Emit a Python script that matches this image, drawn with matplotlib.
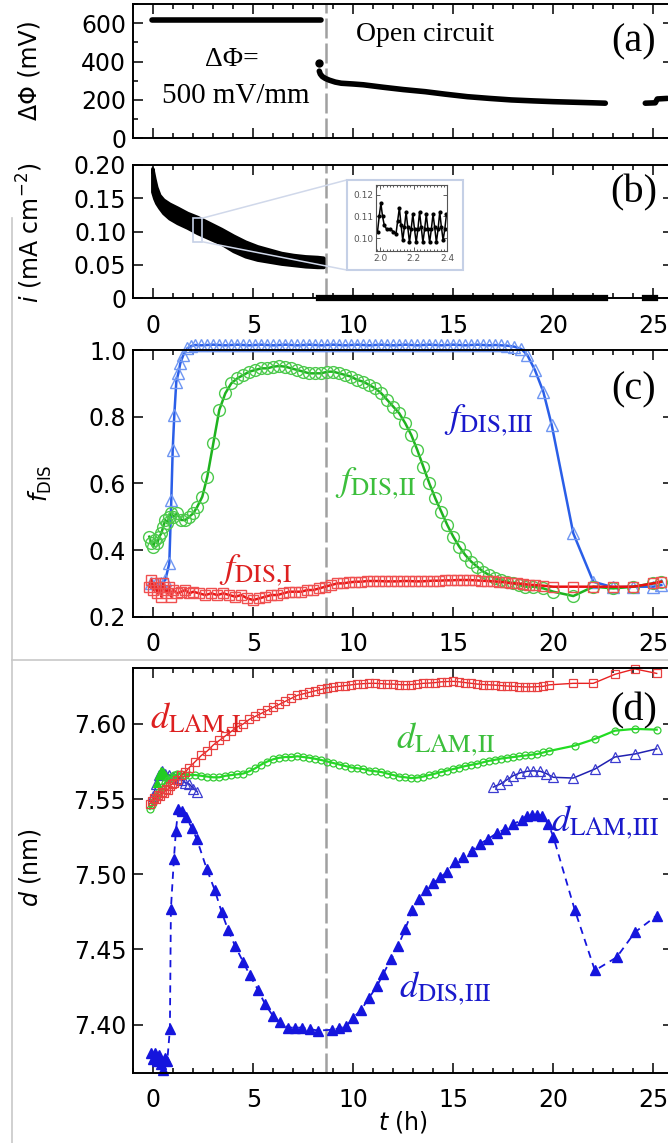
import matplotlib
matplotlib.use("Agg")
from matplotlib import pyplot as plt
from matplotlib.patches import Rectangle, ConnectionPatch
from matplotlib.lines import Line2D
from matplotlib.ticker import MultipleLocator

plt.rcParams['font.family'] = ['DejaVu Sans']
plt.rcParams['mathtext.fontset'] = 'custom'
plt.rcParams['mathtext.rm'] = 'DejaVu Sans'
plt.rcParams['mathtext.it'] = 'DejaVu Sans:italic'

# ---------------- data ----------------
t_switch = 8.63  # end of applied potential (h)

# (a) potential difference
phi_on_t = [-0.05, 8.4]
phi_on_v = [615, 615]
phi_jump_t = [8.3]
phi_jump_v = [390]
phi_oc_t = [8.3, 8.35, 8.45, 8.6, 8.8, 9.1, 9.4, 10.0, 10.5, 11.5,
            12.5, 13.6, 14.6, 15.7, 16.8, 17.9, 19.0, 20.0, 21.0, 22.0, 22.6]
phi_oc_v = [350, 335, 322, 312, 303, 293, 287, 283, 279, 266,
            254, 243, 230, 217, 208, 200, 195, 191, 188, 185, 183]
phi_tail_t = [24.6, 25.1, 25.2, 25.7]
phi_tail_v = [183, 185, 205, 208]

# (b) current density, band of the oscillating signal
band_t = [-0.05, 0.05, 0.15, 0.3, 0.5, 0.8, 1.2, 1.7, 2.2, 2.8,
          3.4, 4.0, 4.6, 5.2, 5.8, 6.4, 7.0, 7.6, 8.2, 8.5]
band_hi = [0.195, 0.180, 0.167, 0.155, 0.148, 0.142, 0.136, 0.128, 0.122, 0.113,
           0.104, 0.094, 0.085, 0.078, 0.073, 0.068, 0.065, 0.063, 0.062, 0.061]
band_lo = [0.160, 0.150, 0.143, 0.136, 0.128, 0.120, 0.113, 0.106, 0.098, 0.090,
           0.082, 0.071, 0.063, 0.058, 0.055, 0.052, 0.050, 0.048, 0.047, 0.047]
i_off_t = [8.3, 22.6]
i_off_v = [0, 0]
i_tail_t = [24.6, 25.1]
i_tail_v = [0, 0]

ins_t = [1.985, 1.995, 2.005, 2.015, 2.025, 2.04, 2.06, 2.08, 2.095, 2.105,
         2.115, 2.125, 2.135, 2.145, 2.155, 2.165, 2.175, 2.185, 2.195, 2.205,
         2.215, 2.225, 2.235, 2.245, 2.255, 2.265, 2.275, 2.285, 2.295, 2.305,
         2.315, 2.325, 2.335, 2.345, 2.355, 2.365, 2.375, 2.385, 2.395]
ins_i = [0.103, 0.110, 0.116, 0.110, 0.106, 0.104, 0.104, 0.103, 0.102, 0.108,
         0.114, 0.106, 0.099, 0.105, 0.112, 0.105, 0.098, 0.104, 0.111, 0.104,
         0.098, 0.104, 0.112, 0.105, 0.098, 0.104, 0.111, 0.104, 0.098, 0.104,
         0.111, 0.105, 0.098, 0.104, 0.112, 0.105, 0.099, 0.104, 0.111]

# (c) fractions
f3_t = [-0.1, 0.15, 0.4, 0.6, 0.8, 0.9, 0.97, 1.05, 1.15, 1.25,
        1.35, 1.5, 1.7, 1.9,
        2.1, 2.4, 2.7, 3.0, 3.3, 3.6, 3.9, 4.2, 4.5, 4.8,
        5.1, 5.4, 5.7, 6.0, 6.3, 6.6, 6.9, 7.2, 7.5, 7.8,
        8.1, 8.4, 8.7, 9.0, 9.3, 9.6, 9.9, 10.2, 10.5, 10.8,
        11.1, 11.4, 11.7, 12.0, 12.3, 12.6, 12.9, 13.2, 13.5, 13.8,
        14.1, 14.4, 14.7, 15.0, 15.3, 15.6, 15.9, 16.2, 16.5, 16.8,
        17.1, 17.4, 17.7,
        18.05, 18.4, 18.7, 19.08, 19.5, 19.92, 21.0, 22.0, 23.0, 24.0,
        25.0, 25.4]
f3_v = [0.30, 0.30, 0.30, 0.31, 0.36, 0.55, 0.70, 0.805, 0.905, 0.93,
        0.96, 0.985, 1.005, 1.012,
        1.015, 1.014, 1.015, 1.016, 1.015, 1.014, 1.015, 1.016, 1.015, 1.014,
        1.015, 1.016, 1.015, 1.014, 1.015, 1.016, 1.015, 1.014, 1.015, 1.016,
        1.015, 1.014, 1.015, 1.016, 1.015, 1.014, 1.015, 1.016, 1.015, 1.014,
        1.015, 1.016, 1.015, 1.014, 1.015, 1.016, 1.015, 1.014, 1.015, 1.016,
        1.015, 1.014, 1.015, 1.016, 1.015, 1.014, 1.015, 1.016, 1.015, 1.014,
        1.015, 1.014, 1.013,
        1.010, 1.003, 0.985, 0.94, 0.875, 0.775, 0.45, 0.305, 0.288, 0.29,
        0.29, 0.295]

f2_t = [-0.2, -0.1, 0.0, 0.1, 0.2, 0.3, 0.4, 0.5, 0.6, 0.7,
        0.8, 0.9, 1.0, 1.2, 1.4, 1.6, 1.8, 2.0, 2.2, 2.45,
        2.7, 3.0, 3.3, 3.6, 3.9, 4.2, 4.5, 4.8, 5.1, 5.4,
        5.7, 6.0, 6.3, 6.6, 6.9, 7.2, 7.5, 7.8, 8.1, 8.4,
        8.7, 9.0, 9.3, 9.6, 9.9, 10.2, 10.5, 10.8, 11.1, 11.4,
        11.7, 12.0, 12.3, 12.6, 12.9, 13.2, 13.5, 13.8, 14.1, 14.4,
        14.7, 15.0, 15.3, 15.6, 15.9, 16.2, 16.5, 16.8, 17.1, 17.4,
        17.7, 18.0, 18.3, 18.6, 19.0, 19.5, 20.0, 21.0, 22.0, 23.0,
        24.0, 25.0, 25.4]
f2_v = [0.44, 0.42, 0.41, 0.43, 0.42, 0.44, 0.45, 0.47, 0.49, 0.48,
        0.50, 0.51, 0.50, 0.51, 0.49, 0.49, 0.50, 0.51, 0.53, 0.56,
        0.62, 0.72, 0.82, 0.87, 0.90, 0.915, 0.925, 0.935, 0.94, 0.945,
        0.945, 0.95, 0.952, 0.95, 0.945, 0.94, 0.935, 0.93, 0.93, 0.93,
        0.935, 0.935, 0.93, 0.925, 0.92, 0.91, 0.905, 0.895, 0.885, 0.87,
        0.85, 0.83, 0.81, 0.78, 0.745, 0.70, 0.65, 0.60, 0.555, 0.515,
        0.475, 0.44, 0.41, 0.385, 0.365, 0.35, 0.335, 0.325, 0.315, 0.31,
        0.305, 0.30, 0.295, 0.29, 0.29, 0.285, 0.275, 0.262, 0.29, 0.285,
        0.29, 0.30, 0.305]

f1_t = [-0.2, -0.1, 0.0, 0.1, 0.2, 0.3, 0.4, 0.5, 0.6, 0.7,
        0.8, 0.9, 1.0, 1.2, 1.4, 1.6, 1.8, 2.0, 2.3, 2.6,
        2.9, 3.2, 3.5, 3.8, 4.1, 4.4, 4.7, 5.0, 5.3, 5.6,
        5.9, 6.2, 6.5, 6.8, 7.1, 7.4, 7.7, 8.0, 8.3, 8.6,
        8.9, 9.2, 9.5, 9.8, 10.1, 10.4, 10.7, 11.0, 11.3, 11.6,
        11.9, 12.2, 12.5, 12.8, 13.1, 13.4, 13.7, 14.0, 14.3, 14.6,
        14.9, 15.2, 15.5, 15.8, 16.1, 16.4, 16.7, 17.0, 17.3, 17.6,
        17.9, 18.2, 18.5, 18.8, 19.1, 19.5, 20.0, 21.0, 22.0, 23.0,
        24.0, 25.0, 25.4]
f1_v = [0.29, 0.31, 0.28, 0.30, 0.27, 0.29, 0.26, 0.30, 0.28, 0.27,
        0.29, 0.26, 0.28, 0.27, 0.275, 0.28, 0.27, 0.275, 0.27, 0.265,
        0.27, 0.265, 0.27, 0.265, 0.26, 0.265, 0.255, 0.25, 0.255, 0.26,
        0.265, 0.265, 0.27, 0.275, 0.275, 0.275, 0.28, 0.28, 0.285, 0.29,
        0.295, 0.30, 0.30, 0.303, 0.305, 0.305, 0.307, 0.307, 0.307, 0.306,
        0.306, 0.306, 0.307, 0.307, 0.306, 0.306, 0.307, 0.308, 0.308, 0.309,
        0.309, 0.31, 0.31, 0.31, 0.309, 0.308, 0.307, 0.306, 0.305, 0.303,
        0.30, 0.30, 0.298, 0.296, 0.295, 0.293, 0.29, 0.29, 0.29, 0.29,
        0.29, 0.30, 0.305]

# (d) spacings
dl1_t = [-0.17, -0.05, 0.05, 0.15, 0.25, 0.35, 0.45, 0.55, 0.65, 0.75,
         0.85, 0.95, 1.05, 1.2, 1.4, 1.6, 1.8, 2.1, 2.4, 2.7,
         3.0, 3.3, 3.6, 3.9, 4.2, 4.5, 4.8, 5.1, 5.4, 5.7,
         6.0, 6.3, 6.6, 6.9, 7.2, 7.5, 7.8, 8.1, 8.4, 8.7,
         9.0, 9.3, 9.6, 9.9, 10.2, 10.5, 10.8, 11.1, 11.4, 11.7,
         12.0, 12.3, 12.6, 12.9, 13.2, 13.5, 13.8, 14.1, 14.4, 14.7,
         15.0, 15.3, 15.6, 15.9, 16.2, 16.5, 16.8, 17.1, 17.4, 17.7,
         18.0, 18.3, 18.6, 18.9, 19.2, 19.5, 19.8, 21.0, 22.0, 23.08,
         24.08, 25.17]
dl1_v = [7.547, 7.549, 7.551, 7.550, 7.553, 7.552, 7.555, 7.554, 7.557, 7.556,
         7.559, 7.560, 7.561, 7.563, 7.566, 7.568, 7.571, 7.575, 7.579, 7.582,
         7.586, 7.589, 7.592, 7.595, 7.598, 7.600, 7.603, 7.605, 7.607, 7.609,
         7.611, 7.613, 7.615, 7.617, 7.619, 7.620, 7.621, 7.622, 7.623, 7.624,
         7.6245, 7.625, 7.6255, 7.626, 7.6265, 7.6268, 7.627, 7.627, 7.6268, 7.6265,
         7.6265, 7.6262, 7.626, 7.6262, 7.6265, 7.627, 7.6272, 7.6275, 7.628, 7.6282,
         7.6283, 7.628, 7.6275, 7.627, 7.6265, 7.6262, 7.626, 7.6258, 7.6255, 7.6252,
         7.625, 7.6248, 7.6246, 7.6246, 7.6248, 7.625, 7.626, 7.627, 7.627, 7.633,
         7.6366, 7.6336]

dl2_t = [-0.17, -0.05, 0.05, 0.15, 0.3, 0.45, 0.6, 0.75, 0.9, 1.05,
         1.2, 1.4, 1.6, 1.8, 2.1, 2.4, 2.7, 3.0, 3.3, 3.6,
         3.9, 4.2, 4.5, 4.8, 5.1, 5.4, 5.7, 6.0, 6.3, 6.6,
         6.9, 7.2, 7.5, 7.8, 8.1, 8.4, 8.7, 9.0, 9.3, 9.6,
         9.9, 10.2, 10.5, 10.8, 11.1, 11.4, 11.7, 12.0, 12.3, 12.6,
         12.9, 13.2, 13.5, 13.8, 14.1, 14.4, 14.7, 15.0, 15.3, 15.6,
         15.9, 16.2, 16.5, 16.8, 17.1, 17.4, 17.7, 18.0, 18.3, 18.6,
         18.9, 19.2, 19.5, 19.8, 21.08, 22.08, 23.08, 24.08, 25.17]
dl2_v = [7.5435, 7.546, 7.549, 7.552, 7.555, 7.558, 7.561, 7.563, 7.565, 7.566,
         7.5665, 7.567, 7.566, 7.566, 7.566, 7.5655, 7.565, 7.5645, 7.5645, 7.5655,
         7.566, 7.5665, 7.567, 7.5685, 7.5705, 7.573, 7.575, 7.5765, 7.5775, 7.578,
         7.578, 7.5785, 7.578, 7.5775, 7.5768, 7.576, 7.575, 7.574, 7.573, 7.572,
         7.571, 7.5705, 7.570, 7.569, 7.5685, 7.568, 7.567, 7.566, 7.565, 7.5645,
         7.564, 7.5643, 7.565, 7.566, 7.567, 7.568, 7.569, 7.570, 7.571, 7.572,
         7.5728, 7.5735, 7.5745, 7.5755, 7.5762, 7.577, 7.5775, 7.578, 7.5785, 7.579,
         7.5795, 7.580, 7.581, 7.582, 7.5856, 7.590, 7.5955, 7.5967, 7.5962]

dl3_t = [0.0, 0.15, 0.3, 0.45, 0.6, 0.8, 1.0, 1.2, 1.4, 1.6, 1.8, 2.0, 2.2]
dl3_v = [7.552, 7.560, 7.566, 7.569, 7.567, 7.566, 7.565, 7.564, 7.563, 7.561,
         7.560, 7.557, 7.555]
dl3b_t = [17.0, 17.35, 17.7, 18.0, 18.35, 18.7, 19.0, 19.35, 19.65, 20.0,
          21.0, 22.08, 23.08, 24.08, 25.17]
dl3b_v = [7.558, 7.560, 7.563, 7.5656, 7.5675, 7.5685, 7.5688, 7.5685, 7.567, 7.5645,
          7.564, 7.570, 7.578, 7.580, 7.5834]

dd3_t = [-0.1, 0.0, 0.1, 0.2, 0.3, 0.4, 0.5, 0.6, 0.7, 0.83,
         0.88, 1.03, 1.13, 1.25, 1.42, 1.63, 1.92, 2.17, 2.67, 3.08,
         3.42, 3.75, 4.08, 4.5, 4.83, 5.25, 5.58, 5.97, 6.33, 6.75,
         7.1, 7.45, 7.83, 8.25, 8.95, 9.3, 9.65, 10.0, 10.4, 10.8,
         11.2, 11.5, 11.9, 12.25, 12.6, 12.95, 13.3, 13.65, 14.0, 14.33,
         14.67, 15.08, 15.5, 15.92, 16.33, 16.75, 17.17, 17.58, 18.0, 18.42,
         18.67, 18.92, 19.17, 19.42, 19.75, 20.0, 21.08, 22.08, 23.17, 24.08,
         25.17]
dd3_v = [7.381, 7.377, 7.381, 7.376, 7.380, 7.374, 7.370, 7.378, 7.376, 7.397,
         7.477, 7.510, 7.529, 7.5435, 7.542, 7.538, 7.531, 7.5236, 7.5036, 7.4892,
         7.4747, 7.4626, 7.4526, 7.4415, 7.4327, 7.4227, 7.4138, 7.406, 7.4016, 7.398,
         7.398, 7.398, 7.397, 7.396, 7.3966, 7.3975, 7.399, 7.4045, 7.410, 7.418,
         7.426, 7.4338, 7.4438, 7.4526, 7.4637, 7.476, 7.4837, 7.4892, 7.494, 7.498,
         7.5012, 7.508, 7.5113, 7.5158, 7.5202, 7.5236, 7.5273, 7.530, 7.5335, 7.536,
         7.539, 7.5394, 7.5394, 7.539, 7.5335, 7.525, 7.476, 7.436, 7.4448, 7.4614,
         7.4725]

dg_t = [0.2, 0.3, 0.4, 0.5, 0.6]
dg_v = [7.561, 7.566, 7.569, 7.568, 7.566]

# ---------------- layout ----------------
W, H = 668, 1143
fig = plt.figure(figsize=(W / 100, H / 100), dpi=100)


def px_box(left, top, right, bottom):
    return [left / W, 1 - bottom / H, (right - left) / W, (bottom - top) / H]


def style(ax, xlabels):
    ax.set_xlim(-1.0, 26.0)
    ax.xaxis.set_major_locator(MultipleLocator(5))
    ax.xaxis.set_minor_locator(MultipleLocator(1))
    ax.tick_params(which='both', direction='in', top=True, right=True,
                   width=1.1, labelsize=17)
    ax.tick_params(which='major', length=7.5)
    ax.tick_params(which='minor', length=3.6)
    ax.tick_params(axis='x', pad=11, labelbottom=xlabels)
    ax.tick_params(axis='y', pad=5)
    for s in ax.spines.values():
        s.set_linewidth(1.4)
    ax.axvline(t_switch, color='#a0a0a0', lw=1.8, dashes=(8, 2), zorder=1)


serif = 'Liberation Serif'
c_blue_txt = '#1a1acc'
c_green_txt = '#3cbf3c'
c_red_txt = '#dd2020'

# ---- (a)
ax_a = fig.add_axes(px_box(133.3, 4, 673.3, 138.3))
style(ax_a, False)
ax_a.plot(phi_on_t, phi_on_v, color='black', lw=4, solid_capstyle='round')
ax_a.plot(phi_oc_t, phi_oc_v, color='black', lw=4, solid_capstyle='round')
ax_a.plot(phi_tail_t, phi_tail_v, color='black', lw=4, solid_capstyle='round')
ax_a.plot(phi_jump_t, phi_jump_v, 'o', color='black', ms=5)
ax_a.set_ylim(0, 700)
ax_a.set_yticks([0, 200, 400, 600])
ax_a.yaxis.set_minor_locator(MultipleLocator(100))
ax_a.text(13.6, 539, 'Open circuit', family=serif, fontsize=20, ha='center', va='center')
ax_a.text(3.93, 409, 'ΔΦ=', family=serif, fontsize=20, ha='center', va='center')
ax_a.text(4.13, 221, '500 mV/mm', family=serif, fontsize=21, ha='center', va='center')
ax_a.text(24.0, 500, '(a)', family=serif, fontsize=29, ha='center', va='center')

# ---- (b)
ax_b = fig.add_axes(px_box(133.3, 165, 673.3, 298.3))
style(ax_b, True)
ax_b.fill_between(band_t, band_lo, band_hi, color='black', lw=2.5, edgecolor='black')
ax_b.plot(i_off_t, i_off_v, color='black', lw=4.5, clip_on=False, zorder=4)
ax_b.plot(i_tail_t, i_tail_v, color='black', lw=4.5, clip_on=False, zorder=4)
ax_b.set_ylim(0, 0.2)
ax_b.set_yticks([0, 0.05, 0.10, 0.15, 0.20])
ax_b.set_yticklabels(['0', '0.05', '0.10', '0.15', '0.20'])
ax_b.add_patch(Rectangle((2.0, 0.085), 0.42, 0.035, fill=False, ec='#c5d0e6', lw=1.2, zorder=5))
ax_b.text(24.0, 0.158, '(b)', family=serif, fontsize=29, ha='center', va='center')

box_fig = px_box(346.7, 180, 463.3, 270)
fig.add_artist(Rectangle((box_fig[0], box_fig[1]), box_fig[2], box_fig[3],
                         transform=fig.transFigure, fc='white', ec='#c5d0e6',
                         lw=1.5, zorder=5))
for (xa, ya), (xb, yb) in [((2.42, 0.12), (box_fig[0], box_fig[1] + box_fig[3])),
                           ((2.42, 0.085), (box_fig[0], box_fig[1]))]:
    con = ConnectionPatch(xyA=(xa, ya), coordsA=ax_b.transData,
                          xyB=(xb, yb), coordsB=fig.transFigure,
                          color='#d0d8ea', lw=1.1, zorder=4)
    fig.add_artist(con)

ax_in = fig.add_axes(px_box(376, 185, 447.3, 251))
ax_in.set_zorder(10)
ax_in.plot(ins_t, ins_i, color='black', lw=1.1, marker='o', ms=2)
ax_in.set_xlim(1.976, 2.40)
ax_in.set_ylim(0.094, 0.1245)
ax_in.set_xticks([2.0, 2.2, 2.4])
ax_in.set_xticklabels(['2.0', '2.2', '2.4'])
ax_in.set_yticks([0.10, 0.11, 0.12])
ax_in.set_yticklabels(['0.10', '0.11', '0.12'])
ax_in.xaxis.set_minor_locator(MultipleLocator(0.02))
ax_in.tick_params(which='both', direction='in', top=True, right=True,
                  labelsize=6.5, labelcolor='#555555', pad=2, width=0.6, color='#444444')
ax_in.tick_params(which='major', length=3)
ax_in.tick_params(which='minor', length=1.5)
for s in ax_in.spines.values():
    s.set_linewidth(0.8)
    s.set_color('#555555')

# ---- (c)
ax_c = fig.add_axes(px_box(133.3, 350, 673.3, 616.7))
style(ax_c, True)
ax_c.plot(f3_t, f3_v, color='#2a5ee8', lw=1.8, marker='^', ms=8, mfc='none',
          mec='#6f96f2', mew=1.0, clip_on=False)
ax_c.plot(f2_t, f2_v, color='#1fb31f', lw=1.8, marker='o', ms=8.5, mfc='none',
          mec='#4cc94c', mew=1.0, clip_on=False)
ax_c.plot(f1_t, f1_v, color='#e81010', lw=1.8, marker='s', ms=7, mfc='none',
          mec='#f05050', mew=1.0, clip_on=False)
ax_c.set_ylim(0.2, 1.0)
ax_c.set_yticks([0.2, 0.4, 0.6, 0.8, 1.0])
ax_c.text(16.8, 0.79, r'$f_{\mathrm{DIS,\!III}}$', math_fontfamily='stix', fontsize=26,
          color=c_blue_txt, ha='center', va='center')
ax_c.text(11.1, 0.60, r'$f_{\mathrm{DIS,\!II}}$', math_fontfamily='stix', fontsize=26,
          color=c_green_txt, ha='center', va='center')
ax_c.text(5.1, 0.34, r'$f_{\mathrm{DIS,\!I}}$', math_fontfamily='stix', fontsize=26,
          color=c_red_txt, ha='center', va='center')
ax_c.text(24.0, 0.88, '(c)', family=serif, fontsize=29, ha='center', va='center')

# ---- (d)
ax_d = fig.add_axes(px_box(133.3, 668.3, 673.3, 1072.7))
style(ax_d, True)
ax_d.plot(dd3_t, dd3_v, color='#1515dd', lw=1.3, dashes=(4, 3), marker='^', ms=7,
          mec='#1515dd', clip_on=False)
ax_d.plot(dl3_t, dl3_v, color='#2020b0', lw=1.1, marker='^', ms=7, mfc='none',
          mec='#3b3bd0', mew=0.9)
ax_d.plot(dl3b_t, dl3b_v, color='#2020b0', lw=1.1, marker='^', ms=7, mfc='none',
          mec='#3b3bd0', mew=0.9, clip_on=False)
ax_d.plot(dg_t, dg_v, color='#22cc22', lw=0, marker='^', ms=6)
ax_d.plot(dl2_t, dl2_v, color='#22dd22', lw=1.6, marker='o', ms=5, mfc='none',
          mec='#33cc33', mew=0.9, clip_on=False)
ax_d.plot(dl1_t, dl1_v, color='#e82020', lw=1.0, marker='s', ms=5.5, mfc='none',
          mec='#e84040', mew=0.9, clip_on=False)
ax_d.set_ylim(7.368, 7.637)
ax_d.set_yticks([7.40, 7.45, 7.50, 7.55, 7.60])
ax_d.set_yticklabels(['7.40', '7.45', '7.50', '7.55', '7.60'])
ax_d.text(-0.15, 7.6035, r'$d_{\mathrm{LAM,\!I}}$', math_fontfamily='stix', fontsize=26,
          color=c_red_txt, ha='left', va='center')
ax_d.text(14.6, 7.5896, r'$d_{\mathrm{LAM,\!II}}$', math_fontfamily='stix', fontsize=26,
          color=c_green_txt, ha='center', va='center')
ax_d.text(22.6, 7.5345, r'$d_{\mathrm{LAM,\!III}}$', math_fontfamily='stix', fontsize=26,
          color=c_blue_txt, ha='center', va='center')
ax_d.text(14.6, 7.424, r'$d_{\mathrm{DIS,\!III}}$', math_fontfamily='stix', fontsize=26,
          color=c_blue_txt, ha='center', va='center')
ax_d.text(24.0, 7.6088, '(d)', family=serif, fontsize=29, ha='center', va='center')

# ---- axis titles
fig.text(30 / W, 1 - 70 / H, 'ΔΦ (mV)', rotation=90, fontsize=17, ha='center', va='center')
fig.text(30 / W, 1 - 233 / H, r'$i$ (mA cm$^{-2}$)', rotation=90, fontsize=17,
         ha='center', va='center')
fig.text(40 / W, 1 - 483 / H, r'$f_{\mathrm{DIS}}$', rotation=90, fontsize=17,
         ha='center', va='center')
fig.text(30 / W, 1 - 868 / H, r'$d$ (nm)', rotation=90, fontsize=17, ha='center', va='center')
fig.text(403 / W, 1 - 1122 / H, r'$t$ (h)', fontsize=17, ha='center', va='center')

# frame lines of the surrounding page
fig.add_artist(Line2D([12.5 / W, 12.5 / W], [1 - 218 / H, 0], color='#c8c8c8', lw=1.2))
fig.add_artist(Line2D([12.5 / W, 1], [1 - 660 / H, 1 - 660 / H], color='#c8c8c8', lw=1.2))

fig.savefig('out.png', dpi=100)
